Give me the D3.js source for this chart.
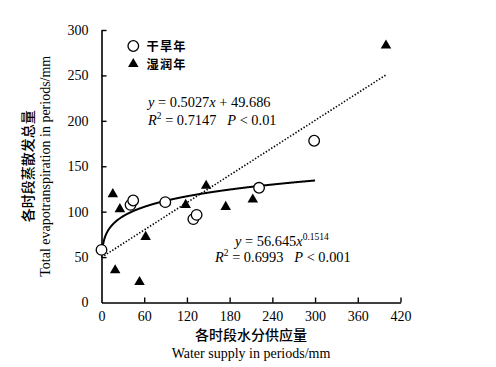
<!DOCTYPE html>
<html><head><meta charset="utf-8">
<script src="https://cdn.jsdelivr.net/npm/d3@7"></script>
<style>body{margin:0;background:#fff}svg{display:block}</style>
</head><body>
<script>
// Data
const dryX = [0, 40.8, 44.5, 89.6, 129, 133.6, 221.3, 298.7];
const dryY = [57.9, 107.5, 112.3, 110.5, 91.8, 96.5, 126.3, 178.1];
const wetX = [15.9, 25.8, 62.0, 19.2, 53.4, 118.2, 147, 174.5, 212.5, 399.6];
const wetY = [120.4, 103.9, 73.3, 36.6, 23.7, 108.6, 129.6, 106.4, 114.5, 284];
const xTicks = [0, 60, 120, 180, 240, 300, 360, 420];
const yTicks = [0, 50, 100, 150, 200, 250, 300];
const linA = 0.5027, linB = 49.686, linRange = [0, 400];
const powA = 56.645, powB = 0.1514, powRange = [1, 300];
const legendLabels = ["干旱年", "湿润年"];

const W = 496, H = 367;
const svg = d3.select("body").append("svg").attr("width", W).attr("height", H);
const x = d3.scaleLinear().domain([0, 420]).range([101.5, 400.5]);
const y = d3.scaleLinear().domain([0, 300]).range([302.5, 30]);
const serif = "'Liberation Serif','Times New Roman',serif";
const cjk = "'Noto Sans CJK SC','Noto Sans CJK JP',sans-serif";

// axes
const gx = svg.append("g").attr("transform", `translate(0,${y(0)})`)
  .call(d3.axisBottom(x).tickValues(xTicks).tickSizeInner(-5).tickSizeOuter(0).tickPadding(9));
const gy = svg.append("g").attr("transform", `translate(${x(0)},0)`)
  .call(d3.axisLeft(y).tickValues(yTicks).tickSizeInner(-5).tickSizeOuter(0).tickPadding(13));
[gx, gy].forEach(g => {
  g.select(".domain").attr("stroke", "#000").attr("stroke-width", 1.6);
  g.selectAll(".tick line").attr("stroke", "#000").attr("stroke-width", 1.4);
  g.selectAll("text").attr("font-family", serif).attr("font-size", 14).attr("fill", "#000");
});
gy.selectAll(".tick").filter(d => d === 0).select("line").remove();
gx.selectAll(".tick").filter(d => d === 0).select("line").remove();

// trend lines
const linPts = d3.range(linRange[0], linRange[1] + 0.1, 5).map(v => [v, linA * v + linB]);
svg.append("path").datum(linPts)
  .attr("d", d3.line().x(d => x(d[0])).y(d => y(d[1])))
  .attr("fill", "none").attr("stroke", "#000").attr("stroke-width", 1.6).attr("stroke-dasharray", "1.4,1.8");
const powPts = d3.range(powRange[0], powRange[1] + 0.01, 0.5).map(v => [v, powA * Math.pow(v, powB)]);
svg.append("path").datum(powPts)
  .attr("d", d3.line().x(d => x(d[0])).y(d => y(d[1])))
  .attr("fill", "none").attr("stroke", "#000").attr("stroke-width", 2);

// points
const tri = d3.symbol().type(d3.symbolTriangle).size(48);
svg.append("g").selectAll("path").data(wetX.map((v, i) => [v, wetY[i]])).join("path")
  .attr("d", tri).attr("transform", d => `translate(${x(d[0])},${y(d[1]) + 1})`).attr("fill", "#000");
svg.append("g").selectAll("circle").data(dryX.map((v, i) => [v, dryY[i]])).join("circle")
  .attr("cx", d => x(d[0])).attr("cy", d => y(d[1])).attr("r", 5.3)
  .attr("fill", "#fff").attr("stroke", "#000").attr("stroke-width", 1.3);

// legend
svg.append("circle").attr("cx", 133.3).attr("cy", 46).attr("r", 5.3)
  .attr("fill", "#fff").attr("stroke", "#000").attr("stroke-width", 1.3);
svg.append("path").attr("d", tri).attr("transform", "translate(133.3,64)").attr("fill", "#000");
legendLabels.forEach((t, i) => {
  svg.append("text").attr("x", 146.5).attr("y", 50.5 + i * 18).text(t)
    .attr("font-family", cjk).attr("font-size", 12.2).attr("font-weight", 600)
    .attr("letter-spacing", 1.2);
});

// annotations
function eqText(xp, yp, parts) {
  const t = svg.append("text").attr("x", xp).attr("y", yp)
    .attr("font-family", serif).attr("font-size", 14.4).attr("xml:space", "preserve");
  parts.forEach(p => {
    const ts = t.append("tspan").text(p.t);
    if (p.i) ts.attr("font-style", "italic");
    if (p.sup) ts.attr("font-size", 9.5).attr("dy", -6);
    if (p.down) ts.attr("dy", 6);
  });
}
eqText(148, 107, [{t: "y", i: 1}, {t: " = 0.5027"}, {t: "x", i: 1}, {t: " + 49.686"}]);
eqText(148, 124.5, [{t: "R", i: 1}, {t: "2", sup: 1}, {t: " = 0.7147   ", down: 1}, {t: "P", i: 1}, {t: " < 0.01"}]);
eqText(235, 246, [{t: "y", i: 1}, {t: " = 56.645"}, {t: "x", i: 1}, {t: "0.1514", sup: 1}]);
eqText(215, 262, [{t: "R", i: 1}, {t: "2", sup: 1}, {t: " = 0.6993   ", down: 1}, {t: "P", i: 1}, {t: " < 0.001"}]);

// axis titles
const cy = (y(0) + y(300)) / 2, cx = (x(0) + x(420)) / 2;
svg.append("text").attr("transform", `translate(33,${cy}) rotate(-90)`).attr("text-anchor", "middle")
  .attr("font-family", cjk).attr("font-size", 14).attr("font-weight", 500).text("各时段蒸散发总量");
svg.append("text").attr("transform", `translate(50,${cy}) rotate(-90)`).attr("text-anchor", "middle")
  .attr("font-family", serif).attr("font-size", 14).text("Total evapotranspiration in periods/mm");
svg.append("text").attr("x", cx).attr("y", 340).attr("text-anchor", "middle")
  .attr("font-family", cjk).attr("font-size", 14).attr("font-weight", 500).text("各时段水分供应量");
svg.append("text").attr("x", cx).attr("y", 357.5).attr("text-anchor", "middle")
  .attr("font-family", serif).attr("font-size", 14).text("Water supply in periods/mm");
</script>
</body></html>
